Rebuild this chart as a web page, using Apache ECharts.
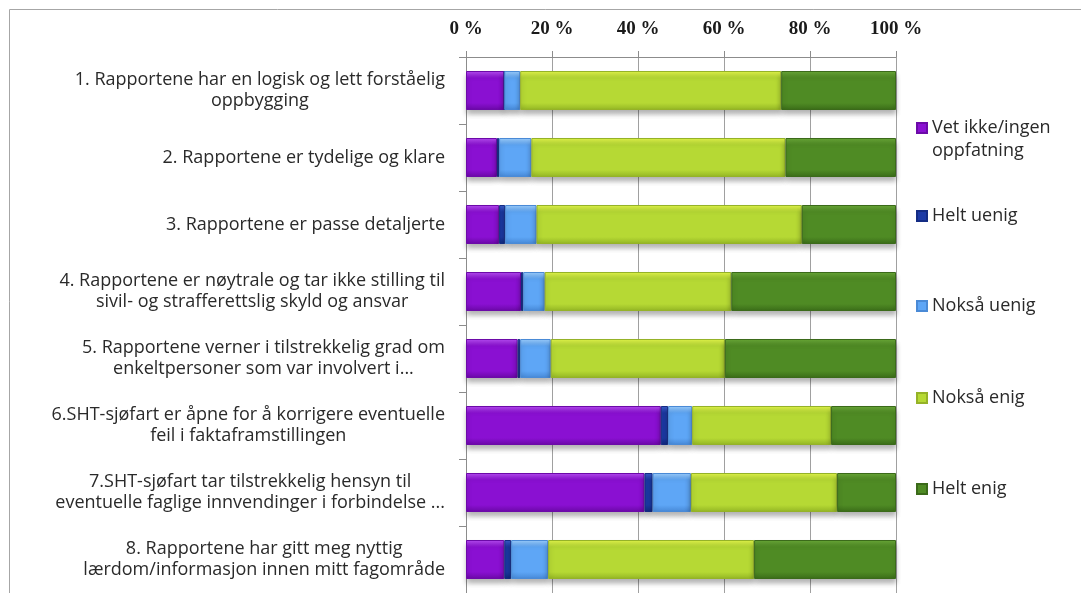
<!DOCTYPE html>
<html>
<head>
<meta charset="utf-8">
<script src="https://cdn.jsdelivr.net/npm/echarts@6/dist/echarts.min.js"></script>
<style>
  html, body { margin: 0; padding: 0; background: #fff; }
  #chart { width: 1081px; height: 593px; }
</style>
</head>
<body>
<div id="chart"></div>
<script>
const categories = [
  '1. Rapportene har en logisk og lett forståelig\noppbygging',
  '2. Rapportene er tydelige og klare',
  '3. Rapportene er passe detaljerte',
  '4. Rapportene er nøytrale og tar ikke stilling til\nsivil- og strafferettslig skyld og ansvar',
  '5. Rapportene verner i tilstrekkelig grad om\nenkeltpersoner som var involvert i...',
  '6.SHT-sjøfart er åpne for å korrigere eventuelle\nfeil i faktaframstillingen',
  '7.SHT-sjøfart tar tilstrekkelig hensyn til\neventuelle faglige innvendinger i forbindelse ...',
  '8. Rapportene har gitt meg nyttig\nlærdom/informasjon innen mitt fagområde'
]

const seriesNames = ['Vet ikke/ingen oppfatning', 'Helt uenig', 'Nokså uenig', 'Nokså enig', 'Helt enig']
const legendLabels = ['Vet ikke/ingen\noppfatning', 'Helt uenig', 'Nokså uenig', 'Nokså enig', 'Helt enig']

const vetIkke    = [8.9, 7.2, 7.7, 12.8, 12.0, 45.3, 41.5, 8.9]
const heltUenig  = [0, 0.5, 1.4, 0.5, 0.6, 1.7, 1.9, 1.6]
const noksaUenig = [3.7, 7.5, 7.3, 5.0, 7.1, 5.6, 8.9, 8.6]
const noksaEnig  = [60.7, 59.1, 61.7, 43.4, 40.5, 32.3, 34.0, 47.9]
const heltEnig   = [26.7, 25.7, 21.9, 38.3, 39.8, 15.1, 13.7, 33.0]

const xTicks = [0, 20, 40, 60, 80, 100]

const values = [vetIkke, heltUenig, noksaUenig, noksaEnig, heltEnig]

// top light / body / bottom dark, border
const palette = [
  ['#b64cf2', '#8a10d2', '#6a08a6', '#6c0aa8'],
  ['#3a5cc8', '#1c3aa6', '#112a80', '#142c84'],
  ['#9ccdfc', '#5ea6f6', '#4688d6', '#4a8ad6'],
  ['#e2f54a', '#b6d934', '#93b524', '#95b228'],
  ['#6aa838', '#4f8b24', '#3a6c18', '#3b6a1a']
]

// vertical centre of each legend entry (first text line)
const legendY = [128, 216, 306, 398, 489]

const chart = echarts.init(document.getElementById('chart'))

const labelFont = '"Open Sans", "DejaVu Sans", sans-serif'

const option = {
  animation: false,
  backgroundColor: '#fff',
  graphic: [{
    type: 'rect',
    shape: { x: 9.5, y: 9.5, width: 1100, height: 620 },
    style: { fill: 'none', stroke: '#a6a6a6', lineWidth: 1 },
    silent: true
  }],
  grid: { left: 466, top: 57, width: 430, height: 542 },
  xAxis: {
    type: 'value',
    position: 'top',
    min: 0,
    max: 100,
    interval: 20,
    axisLine: { show: true, lineStyle: { color: '#8c8c8c' } },
    axisTick: { show: true, length: 6, lineStyle: { color: '#8c8c8c' } },
    splitLine: { show: true, lineStyle: { color: '#a0a0a0', width: 1 } },
    axisLabel: {
      margin: 18,
      fontFamily: '"Liberation Serif", "DejaVu Serif", serif',
      fontWeight: 'bold',
      fontSize: 19,
      color: '#1a1a1a',
      formatter: v => (xTicks.includes(v) ? v + ' %' : '')
    }
  },
  yAxis: {
    type: 'category',
    inverse: true,
    data: categories,
    axisLine: { show: true, lineStyle: { color: '#8c8c8c' } },
    axisTick: { show: true, length: 7, lineStyle: { color: '#8c8c8c' } },
    axisLabel: {
      margin: 21,
      align: 'right',
      color: '#2a2a2a',
      fontFamily: labelFont,
      fontSize: 18,
      lineHeight: 21,
      formatter: v => v.split('\n').map(l => '{c|' + l + '}').join('\n'),
      rich: {
        c: { align: 'center', fontFamily: labelFont, fontSize: 18, lineHeight: 21, color: '#2a2a2a' }
      }
    }
  },
  legend: legendLabels.map((lab, i) => ({
    data: [seriesNames[i]],
    orient: 'vertical',
    left: 916,
    top: i === 0 ? legendY[i] - 34.5 : legendY[i] - 10.5,
    padding: 0,
    itemWidth: 10,
    itemHeight: 10,
    itemGap: 0,
    icon: 'rect',
    formatter: () => lab.split('\n').map(l => '{t|' + l + '}').join('\n'),
    textStyle: {
      fontFamily: labelFont,
      fontSize: 18,
      lineHeight: i === 0 ? 23 : 21,
      color: '#2a2a2a',
      padding: i === 0 ? [23, 0, 0, 0] : 0,
      rich: {
        t: { fontFamily: labelFont, fontSize: 18, lineHeight: i === 0 ? 23 : 21, color: '#2a2a2a' }
      }
    }
  })),
  series: values.map((arr, i) => ({
    name: seriesNames[i],
    type: 'bar',
    stack: 'total',
    barWidth: 39,
    data: arr,
    itemStyle: {
      color: new echarts.graphic.LinearGradient(0, 0, 0, 1, [
        { offset: 0, color: palette[i][0] },
        { offset: 0.18, color: palette[i][1] },
        { offset: 0.82, color: palette[i][1] },
        { offset: 1, color: palette[i][2] }
      ]),
      borderColor: palette[i][3],
      borderWidth: 1,
      shadowColor: 'rgba(0,0,0,0.3)',
      shadowBlur: 5,
      shadowOffsetY: 4
    }
  }))
}

chart.setOption(option)
</script>
</body>
</html>
